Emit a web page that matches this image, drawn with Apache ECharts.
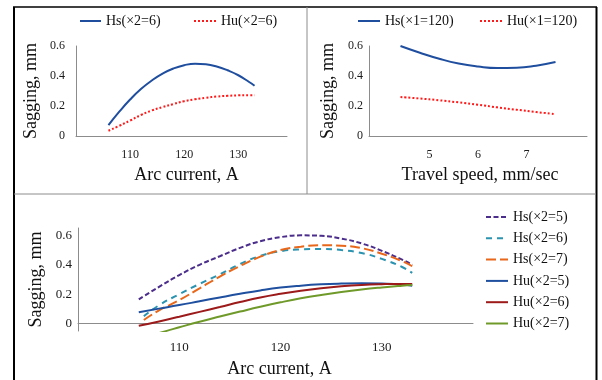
<!DOCTYPE html>
<html><head><meta charset="utf-8">
<script src="https://cdn.jsdelivr.net/npm/echarts@6/dist/echarts.min.js"></script>
<style>html,body{margin:0;padding:0;background:#fff}#c{width:602px;height:380px}</style>
</head><body><div id="c"></div>
<script>
// ---- data ----
const arcX = [106,108,110,112,114,116,118,120,122,124,126,128,130,132,133];
const tlHs = [0.072,0.162,0.243,0.313,0.37,0.416,0.45,0.472,0.482,0.478,0.463,0.438,0.405,0.36,0.335];
const tlHu = [0.035,0.068,0.103,0.14,0.17,0.193,0.213,0.232,0.245,0.255,0.263,0.268,0.271,0.272,0.272];

const speedX = [4.4,4.8,5.2,5.6,6.0,6.4,6.8,7.2,7.6];
const trHs = [0.6,0.555,0.515,0.483,0.463,0.453,0.455,0.469,0.493];
const trHu = [0.26,0.25,0.238,0.224,0.208,0.191,0.175,0.16,0.145];

const botX  = [106,108,110,112,114,116,118,120,122,124,126,128,130,132,133];
const botX2 = [106.5,108,110,112,114,116,118,120,122,124,126,128,130,132,133];
const hs5 = [0.165,0.25,0.33,0.40,0.458,0.515,0.56,0.588,0.60,0.597,0.578,0.545,0.495,0.435,0.40];
const hs6 = [0.05,0.125,0.2,0.27,0.335,0.405,0.46,0.492,0.505,0.508,0.50,0.48,0.44,0.385,0.345];
const hs7 = [0.025,0.09,0.16,0.24,0.32,0.392,0.455,0.5,0.523,0.533,0.53,0.513,0.475,0.425,0.39];
const hu5 = [0.078,0.102,0.126,0.152,0.178,0.203,0.226,0.245,0.258,0.267,0.272,0.274,0.272,0.266,0.258];
const hu6 = [-0.015,0.015,0.047,0.08,0.113,0.147,0.178,0.203,0.224,0.241,0.254,0.263,0.268,0.27,0.27];
const hu7 = [-0.105,-0.064,-0.025,0.013,0.048,0.082,0.115,0.145,0.172,0.195,0.215,0.232,0.246,0.258,0.263];

const arcTicks = [110,120,130];
const speedTicks = [5,6,7];
const sagTicks = [0,0.2,0.4,0.6];

const topLegend = ['Hs(×2=6)','Hu(×2=6)'];
const trLegend = ['Hs(×1=120)','Hu(×1=120)'];
const botLegend = ['Hs(×2=5)','Hs(×2=6)','Hs(×2=7)','Hu(×2=5)','Hu(×2=6)','Hu(×2=7)'];

// ---- build ----
const FONT = 'Liberation Serif';
const pairs = (xs, ys) => xs.map((x,i)=>[x, ys[i]]);
const near = (v, list) => list.some(t => Math.abs(v - t) < 1e-6);
const axisLine = {show:true, lineStyle:{color:'#8c8c8c', width:1}};

function xAx(grid, min, max, interval, ticks, name, gap, margin, fs, pad){
  return {type:'value', gridIndex:grid, min, max, interval,
    axisLine, axisTick:{show:false}, splitLine:{show:false},
    axisLabel:{margin, fontFamily:FONT, fontSize:fs, color:'#1a1a1a',
      formatter: v => near(v, ticks) ? String(Math.round(v*100)/100) : ''},
    name, nameLocation:'middle', nameGap:gap,
    nameTextStyle:{fontFamily:FONT, fontSize:18, color:'#111', padding:pad}};
}
function yAx(grid, min, max, interval, gap, margin, fs){
  return {type:'value', gridIndex:grid, min, max, interval,
    axisLine, axisTick:{show:false}, splitLine:{show:false},
    axisLabel:{margin, fontFamily:FONT, fontSize:fs, color:'#1a1a1a',
      formatter: v => near(v, sagTicks) ? String(Math.round(v*10)/10) : ''},
    name:'Sagging, mm', nameLocation:'middle', nameGap:gap,
    nameTextStyle:{fontFamily:FONT, fontSize:18, color:'#111'}};
}
function ln(name, grid, data, color, type){
  return {type:'line', name, xAxisIndex:grid, yAxisIndex:grid, data,
    smooth:0.5, symbol:'none', showSymbol:false, clip:true,
    lineStyle:{color, width:2, type}, itemStyle:{color}};
}
const BLUE='#1f4e9f', RED='#ff1a1a';
function leg(id, names, left, top, orient, gap, w){
  return {id, data:names, left, top, orient, itemGap:gap, itemWidth:w, itemHeight:10,
    padding:0, selectedMode:false, itemStyle:{opacity:0},
    textStyle:{fontFamily:FONT, fontSize:14, color:'#111', lineHeight:14},
    formatter: n => n.indexOf('|')>=0 ? n.split('|')[1] : n};
}

const option = {
  animation:false,
  backgroundColor:'#fff',
  grid:[
    {left:76, top:46, width:211, height:90},
    {left:369, top:46, width:218, height:90},
    {left:78, top:228, width:395, height:103}
  ],
  xAxis:[
    xAx(0,100,139,10,arcTicks,'Arc current, A',30,13,12,[0,0,0,10]),
    xAx(1,3.75,8.25,0.25,speedTicks,'Travel speed, mm/sec',30,13,12,[0,0,0,4]),
    xAx(2,100,139,10,arcTicks,'Arc current, A',29,10,13,[0,0,0,8])
  ],
  yAxis:[
    yAx(0,0,0.6,0.2,36,11,12),
    yAx(1,0,0.6,0.2,32,6,12),
    yAx(2,-0.05,0.65,0.05,30,6,13)
  ],
  legend:[
    leg('l1',['A|'+topLegend[0]],79,14,'horizontal',10,21),
    leg('l2',['A|'+topLegend[1]],193,14,'horizontal',10,22),
    leg('l3',['B|'+trLegend[0]],357,14,'horizontal',10,22),
    leg('l4',['B|'+trLegend[1]],479,14,'horizontal',10,22),
    leg('l5',botLegend,485,210,'vertical',7.3,22)
  ],
  series:[
    ln('A|'+topLegend[0],0,pairs(arcX,tlHs),BLUE,'solid'),
    ln('A|'+topLegend[1],0,pairs(arcX,tlHu),RED,[2,2]),
    ln('B|'+trLegend[0],1,pairs(speedX,trHs),BLUE,'solid'),
    ln('B|'+trLegend[1],1,pairs(speedX,trHu),RED,[2,2]),
    ln(botLegend[0],2,pairs(botX,hs5),'#4b2d8c',[5,2.5]),
    ln(botLegend[1],2,pairs(botX2,hs6),'#2a93b0',[6,5]),
    ln(botLegend[2],2,pairs(botX2,hs7),'#e8671a',[10,4]),
    ln(botLegend[3],2,pairs(botX,hu5),'#1f4f9f','solid'),
    ln(botLegend[4],2,pairs(botX,hu6),'#9c1a1a','solid'),
    ln(botLegend[5],2,pairs(botX,hu7),'#6f9a2a','solid')
  ],
  graphic:[
    {type:'line', shape:{x1:14,y1:7,x2:14,y2:380}, style:{stroke:'#000',lineWidth:2}, silent:true},
    {type:'line', shape:{x1:13,y1:7,x2:597,y2:7}, style:{stroke:'#000',lineWidth:1.5}, silent:true},
    {type:'line', shape:{x1:596.5,y1:7,x2:596.5,y2:380}, style:{stroke:'#000',lineWidth:2}, silent:true},
    {type:'line', shape:{x1:14,y1:194,x2:596,y2:194}, style:{stroke:'#8c8c8c',lineWidth:1}, silent:true},
    {type:'line', shape:{x1:307,y1:7,x2:307,y2:194}, style:{stroke:'#8c8c8c',lineWidth:1}, silent:true}
  ]
};
const chart = echarts.init(document.getElementById('c'), null, {renderer:'canvas'});
chart.setOption(option);
</script></body></html>
